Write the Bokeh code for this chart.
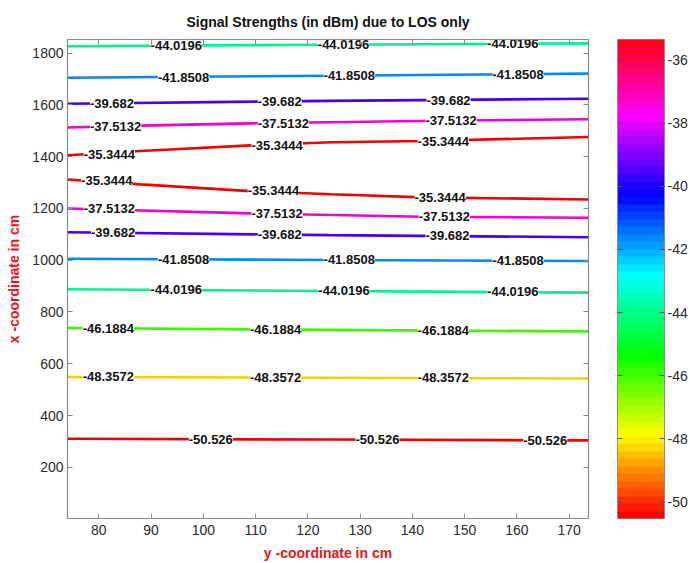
import colorsys
import numpy as np
from bokeh.plotting import figure
from bokeh.layouts import row
from bokeh.models import (ColumnDataSource, LinearAxis, FixedTicker, CustomJSTickFormatter,
                          Range1d, LinearColorMapper)
from bokeh.embed import file_html
from bokeh.resources import INLINE
from bokeh.core.properties import value

# ---------------- data ----------------
title_text = "Signal Strengths (in dBm) due to LOS only"
x_label = "y -coordinate in cm"
y_label = "x -coordinate in cm"

x_ticks = [80, 90, 100, 110, 120, 130, 140, 150, 160, 170]
y_ticks = [200, 400, 600, 800, 1000, 1200, 1400, 1600, 1800]
cbar_ticks = [-50, -48, -46, -44, -42, -40, -38, -36]

x_limits = [74, 173.7]
y_limits = [2, 1853]

# contour levels (dBm)
levels = [-50.526, -48.3572, -46.1884, -44.0196, -41.8508, -39.682, -37.5132, -35.3444]

# each contour piece: its level, the line points and where its labels start
piece_level = [-44.0196, -41.8508, -39.682, -37.5132, -35.3444, -35.3444,
               -37.5132, -39.682, -41.8508, -44.0196, -46.1884, -48.3572, -50.526]
piece_x = [
    [74, 124, 173.7],
    [74, 124, 173.7],
    [74, 124, 173.7],
    [74, 88, 109, 141, 173.7],
    [74, 88, 109, 124.5, 142, 173.7],
    [74, 88, 109, 124.5, 142, 173.7],
    [74, 109, 124.5, 142, 173.7],
    [74, 124, 173.7],
    [74, 124, 173.7],
    [74, 124, 173.7],
    [74, 124, 173.7],
    [74, 124, 173.7],
    [74, 124, 173.7],
]
piece_y = [
    [1827, 1833, 1838],
    [1705, 1713, 1721],
    [1605, 1616, 1624],
    [1513, 1520, 1529, 1538, 1545],
    [1406, 1422, 1444, 1456, 1461, 1476],
    [1312, 1293, 1267, 1255, 1243, 1235],
    [1200, 1181, 1175, 1168, 1164],
    [1108, 1097, 1089],
    [1006, 1001, 997],
    [888, 881, 875],
    [738, 731, 725],
    [549, 546, 543],
    [310, 307, 304],
]
label_x = [
    [89.9, 121.9, 154.3],
    [91.3, 123.0, 155.3],
    [78.3, 110.4, 142.7],
    [78.3, 110.4, 142.5],
    [77.1, 109.2, 141.0],
    [76.6, 108.5, 140.4],
    [77.1, 109.2, 141.2],
    [78.5, 110.4, 142.5],
    [91.3, 123.0, 155.3],
    [89.9, 122.0, 154.3],
    [76.9, 108.9, 141.0],
    [76.9, 108.9, 141.0],
    [97.2, 129.1, 161.2],
]

# ---------------- helpers ----------------
lo, hi = min(levels), max(levels)


def hsv_hex(h, v=1.0):
    r, g, b = colorsys.hsv_to_rgb(h % 1.0 if h < 1.0 else 0.0, 1.0, v)
    return "#%02x%02x%02x" % (int(round(r * 255)), int(round(g * 255)), int(round(b * 255)))


palette = [hsv_hex(i / 64.0) for i in range(64)]


def level_color(lev):
    h = (lev - lo) / (hi - lo)
    return hsv_hex(h if h < 0.999 else 0.0, 0.95)


FONT = "Liberation Sans"
TICK_COLOR = "#2b2b2b"
FRAME_COLOR = "#8a8a8a"

# ---------------- main plot ----------------
p = figure(width=600, height=563,
           x_range=Range1d(*x_limits), y_range=Range1d(*y_limits),
           min_border_left=67, min_border_right=12, min_border_top=39, min_border_bottom=44,
           toolbar_location=None, output_backend="svg", title=title_text)
p.background_fill_color = "white"
p.border_fill_color = "white"
p.outline_line_color = FRAME_COLOR
p.outline_line_width = 1.2
p.grid.visible = False

p.title.text_font = FONT
p.title.text_font_size = "14px"
p.title.text_font_style = "bold"
p.title.text_color = "#111111"
p.title.align = "center"
p.title.vertical_align = "top"
p.title.standoff = 16

line_src = ColumnDataSource(dict(
    xs=piece_x, ys=piece_y,
    color=[level_color(l) for l in piece_level]))
p.multi_line(xs="xs", ys="ys", line_color="color", line_width=2.6, source=line_src)

lx, ly, lt = [], [], []
for lev, xs, ys, lxs in zip(piece_level, piece_x, piece_y, label_x):
    for xx in lxs:
        lx.append(xx)
        ly.append(float(np.interp(xx, xs, ys)))
        lt.append(f"{lev:g}")
lab_src = ColumnDataSource(dict(x=lx, y=ly, t=lt))
p.text(x="x", y="y", text="t", source=lab_src, text_font=value(FONT),
       text_font_size="13px", text_font_style="bold", text_color="#111111",
       text_align="left", text_baseline="middle",
       background_fill_color="white", padding=0)


def style_axis(ax, ticks, show_labels=True):
    ax.ticker = FixedTicker(ticks=ticks)
    ax.axis_line_color = FRAME_COLOR
    ax.major_tick_line_color = FRAME_COLOR
    ax.major_tick_in = 5
    ax.major_tick_out = 0
    ax.minor_tick_line_color = None
    ax.major_label_text_font = FONT
    ax.major_label_text_font_size = "14px"
    ax.major_label_text_color = TICK_COLOR
    ax.formatter = CustomJSTickFormatter(code="return String(tick)")
    if not show_labels:
        ax.formatter = CustomJSTickFormatter(code="return ''")
        ax.major_label_text_font_size = "0px"
        ax.major_label_standoff = 0
        ax.axis_label_standoff = 0


style_axis(p.xaxis[0], x_ticks)
style_axis(p.yaxis[0], y_ticks)
p.xaxis[0].major_label_standoff = 6
p.yaxis[0].major_label_standoff = 4
for ax, lab in ((p.xaxis[0], x_label), (p.yaxis[0], y_label)):
    ax.axis_label = lab
    ax.axis_label_text_font = FONT
    ax.axis_label_text_font_size = "14px"
    ax.axis_label_text_font_style = "bold"
    ax.axis_label_text_color = "#e8141c"
    ax.axis_label_standoff = 7

top_ax = LinearAxis()
style_axis(top_ax, x_ticks, show_labels=False)
p.add_layout(top_ax, "above")
right_ax = LinearAxis()
style_axis(right_ax, y_ticks, show_labels=False)
p.add_layout(right_ax, "right")

# ---------------- colour bar ----------------
mapper = LinearColorMapper(palette=palette, low=lo, high=hi)
cb = figure(width=90, height=563, x_range=Range1d(0, 1), y_range=Range1d(lo, hi),
            min_border_left=17, min_border_right=26, min_border_top=39, min_border_bottom=44,
            toolbar_location=None, output_backend="svg", y_axis_location="right")
cb.outline_line_color = FRAME_COLOR
cb.border_fill_color = "white"
cb.grid.visible = False
cb.xaxis.visible = False
cb_vals = np.linspace(lo, hi, 64).reshape(64, 1)
cb.image(image=[cb_vals], x=0, y=lo, dw=1, dh=hi - lo, color_mapper=mapper)
style_axis(cb.yaxis[0], cbar_ticks)
cb.yaxis[0].major_label_standoff = 3
cb.yaxis[0].axis_label_standoff = 0
cb.yaxis[0].major_tick_line_color = "#555555"
cb_left = LinearAxis()
style_axis(cb_left, cbar_ticks, show_labels=False)
cb_left.major_tick_line_color = "#555555"
cb.add_layout(cb_left, "left")

layout = row(p, cb)
open("out.html", "w").write(file_html(layout, INLINE))
